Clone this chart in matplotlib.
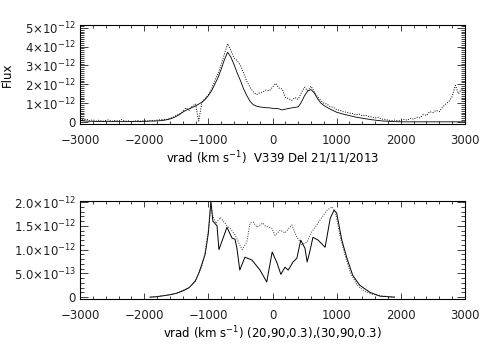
import numpy as np
import matplotlib
matplotlib.use("Agg")
import matplotlib.pyplot as plt
from matplotlib.ticker import MultipleLocator, FixedLocator, FixedFormatter

plt.rcParams.update({
    "font.family": "DejaVu Sans",
    "font.size": 8.5,
    "mathtext.default": "regular",
    "axes.linewidth": 0.8,
    "text.color": "#222222",
    "xtick.color": "#222222",
    "ytick.color": "#222222",
})

# --- top panel: V339 Del 21/11/2013 (velocity grid in km/s, flux in 1e-12 units)
v_top = np.arange(-3000, 3001, 50)
flux_top_solid = [
    0.10, 0.06, 0.05, 0.04, 0.04, 0.03, 0.03, 0.03, 0.02, 0.02,
    0.02, 0.02, 0.02, 0.02, 0.02, 0.02, 0.03, 0.03, 0.03, 0.03,
    0.04, 0.04, 0.05, 0.05, 0.06, 0.07, 0.09, 0.12, 0.16, 0.22,
    0.30, 0.40, 0.52, 0.62, 0.70, 0.78, 0.85, 0.95, 1.05, 1.20,
    1.40, 1.65, 2.00, 2.35, 2.80, 3.30, 3.70, 3.45, 3.05, 2.60,
    2.20, 1.75, 1.40, 1.10, 0.92, 0.84, 0.80, 0.78, 0.76, 0.75,
    0.73, 0.72, 0.70, 0.64, 0.68, 0.72, 0.75, 0.78, 0.80, 1.05,
    1.40, 1.65, 1.72, 1.55, 1.25, 1.02, 0.88, 0.78, 0.68, 0.60,
    0.52, 0.47, 0.42, 0.38, 0.34, 0.30, 0.26, 0.23, 0.20, 0.17,
    0.15, 0.12, 0.10, 0.08, 0.06, 0.05, 0.04, 0.03, 0.02, 0.02,
    0.01, 0.01, 0.01, 0.01, 0.01, 0.01, 0.01, 0.01, 0.01, 0.01,
    0.01, 0.01, 0.01, 0.01, 0.01, 0.01, 0.01, 0.01, 0.01, 0.01,
    0.01,
]
flux_top_dotted = [
    0.20, 0.12, 0.15, 0.06, 0.12, 0.05, 0.10, 0.04, 0.08, 0.12,
    0.04, 0.09, 0.05, 0.13, 0.04, 0.06, 0.03, 0.05, 0.08, 0.04,
    0.07, 0.05, 0.09, 0.06, 0.10, 0.12, 0.14, 0.13, 0.20, 0.25,
    0.35, 0.42, 0.55, 0.75, 0.62, 0.85, 0.95, 0.05, 1.05, 1.25,
    1.45, 1.75, 2.20, 2.55, 3.05, 3.60, 4.15, 3.80, 3.40, 3.25,
    3.00, 2.60, 2.15, 1.85, 1.60, 1.45, 1.55, 1.60, 1.70, 1.65,
    1.85, 2.05, 1.80, 1.75, 1.30, 1.25, 1.15, 1.30, 1.20, 1.55,
    1.85, 1.65, 1.90, 1.60, 1.35, 1.15, 1.00, 0.95, 0.80, 0.78,
    0.65, 0.62, 0.55, 0.52, 0.47, 0.45, 0.38, 0.42, 0.33, 0.36,
    0.30, 0.27, 0.22, 0.25, 0.16, 0.14, 0.10, 0.07, 0.10, 0.06,
    0.08, 0.14, 0.10, 0.20, 0.15, 0.25, 0.22, 0.40, 0.35, 0.55,
    0.50, 0.62, 0.55, 0.80, 0.95, 1.10, 1.35, 1.95, 1.50, 1.80,
    1.65,
]

# --- bottom panel: model profiles (20,90,0.3) and (30,90,0.3)
v_bot_solid = [-1910, -1800, -1700, -1600, -1500, -1400, -1300, -1250, -1200, -1150,
               -1100, -1050, -1000, -960, -930, -865, -835, -710, -630, -585,
               -555, -510, -430, -320, -195, -90, -5, 70, 130, 195,
               245, 320, 380, 440, 505, 540, 580, 630, 710, 820,
               900, 960, 1000, 1080, 1160, 1250, 1360, 1520, 1680, 1900]
flux_bot_solid = [0.0, 0.01, 0.03, 0.05, 0.08, 0.13, 0.20, 0.27, 0.35, 0.50,
                  0.70, 0.90, 1.35, 2.02, 1.60, 1.50, 1.00, 1.47, 1.24, 1.22,
                  1.03, 0.57, 0.84, 0.78, 0.57, 0.32, 0.95, 0.72, 0.48, 0.63,
                  0.57, 0.74, 0.82, 1.20, 1.03, 0.74, 0.95, 1.26, 1.20, 1.05,
                  1.66, 1.83, 1.77, 1.20, 0.82, 0.46, 0.25, 0.10, 0.02, 0.0]
v_bot_dotted = [-1900, -1700, -1500, -1300, -1200, -1100, -1050, -1000, -960, -930,
                -880, -815, -710, -660, -580, -510, -475, -400, -350, -300,
                -240, -150, -115, -10, 40, 120, 195, 300, 380, 460,
                540, 610, 690, 770, 850, 930, 980, 1050, 1130, 1210,
                1320, 1440, 1560, 1680, 1900]
flux_bot_dotted = [0.0, 0.03, 0.08, 0.20, 0.33, 0.65, 0.95, 1.40, 1.95, 1.70,
                   1.55, 1.68, 1.50, 1.45, 1.30, 1.10, 1.00, 1.16, 1.56, 1.58,
                   1.47, 1.56, 1.50, 1.45, 1.30, 1.41, 1.35, 1.52, 1.26, 1.10,
                   1.16, 1.37, 1.52, 1.68, 1.83, 1.90, 1.79, 1.30, 0.88, 0.53,
                   0.25, 0.12, 0.06, 0.03, 0.0]

top_ticks = [0, 1e-12, 2e-12, 3e-12, 4e-12, 5e-12]
top_labels = ["0", r"$1{\times}10^{-12}$", r"$2{\times}10^{-12}$", r"$3{\times}10^{-12}$",
              r"$4{\times}10^{-12}$", r"$5{\times}10^{-12}$"]
bot_ticks = [0, 0.5e-12, 1.0e-12, 1.5e-12, 2.0e-12]
bot_labels = ["0", r"$5.0{\times}10^{-13}$", r"$1.0{\times}10^{-12}$",
              r"$1.5{\times}10^{-12}$", r"$2.0{\times}10^{-12}$"]

fig = plt.figure(figsize=(4.91, 3.51), dpi=100)
ax1 = fig.add_axes([0.163, 0.647, 0.784, 0.282])
ax2 = fig.add_axes([0.163, 0.148, 0.784, 0.279])

dots = (0, (1, 1.5))
ax1.plot(v_top, np.array(flux_top_solid) * 1e-12, color="black", lw=0.6)
ax1.plot(v_top, np.array(flux_top_dotted) * 1e-12, color="black", lw=0.7, ls=dots)
ax2.plot(v_bot_solid, np.array(flux_bot_solid) * 1e-12, color="black", lw=0.7)
ax2.plot(v_bot_dotted, np.array(flux_bot_dotted) * 1e-12, color="#333333", lw=0.7, ls=dots)

ax1.set_ylim(-0.1e-12, 5.15e-12)
ax2.set_ylim(-0.04e-12, 2.02e-12)

for ax, ticks, labels in [(ax1, top_ticks, top_labels), (ax2, bot_ticks, bot_labels)]:
    ax.set_xlim(-3000, 3000)
    ax.xaxis.set_major_locator(MultipleLocator(1000))
    ax.xaxis.set_minor_locator(MultipleLocator(200))
    ax.yaxis.set_major_locator(FixedLocator(ticks))
    ax.yaxis.set_major_formatter(FixedFormatter(labels))
    ax.yaxis.set_minor_locator(MultipleLocator(1e-13))
    ax.tick_params(which="both", direction="in", top=True, right=True, width=0.6)
    ax.tick_params(axis="x", which="major", length=4, pad=7)
    ax.tick_params(axis="x", which="minor", length=2)
    ax.tick_params(axis="y", which="major", length=6, pad=3)
    ax.tick_params(axis="y", which="minor", length=3)
    ax.xaxis.set_major_formatter(plt.FuncFormatter(lambda x, p: f"{int(x)}".replace("-", "\u2212")))

ax1.set_xlabel(r"vrad (km s$^{-1}$)  V339 Del 21/11/2013", labelpad=2)
ax2.set_xlabel(r"vrad (km s$^{-1}$) (20,90,0.3),(30,90,0.3)", labelpad=2)
ax1.set_ylabel("Flux")
ax1.yaxis.set_label_coords(-0.172, 0.5)
# in the reference the lower panel's y label is mostly cut off at the left edge
ax2.set_ylabel("Flux")
ax2.yaxis.set_label_coords(-0.2, 0.6)

fig.savefig("out.png", dpi=100)
